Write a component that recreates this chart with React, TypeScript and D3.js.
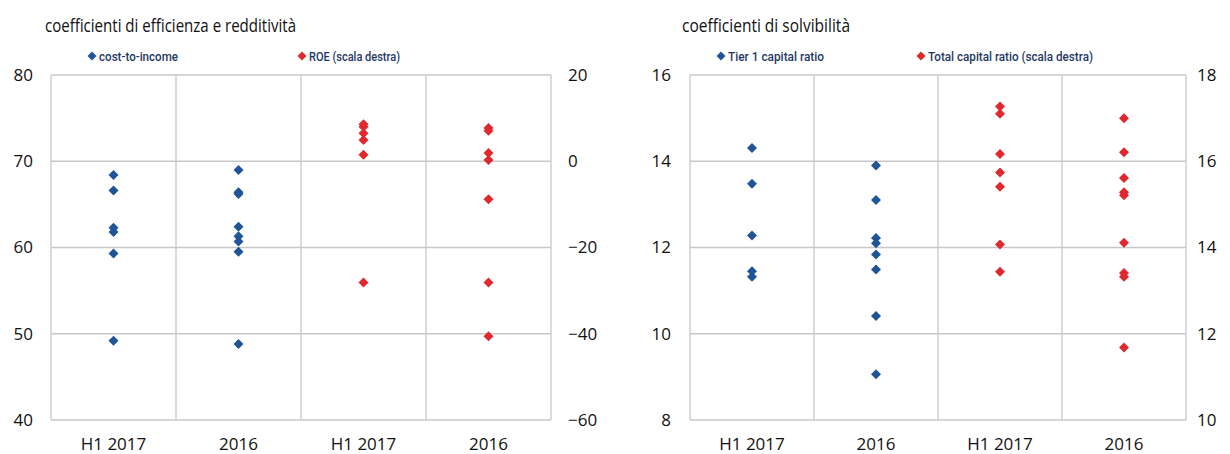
import React from "react";
import * as d3 from "d3";

// ---------- data ----------
const categories = ["H1 2017", "2016", "H1 2017", "2016"];

// left panel
const costIncomeH1 = [68.4, 66.6, 62.3, 61.8, 59.3, 49.2];
const costIncome2016 = [69.0, 66.4, 66.2, 62.4, 61.3, 60.7, 59.5, 48.8];
const roeH1 = [8.6, 8.0, 6.5, 4.9, 1.5, -28.1];
const roe2016 = [7.7, 7.1, 1.9, 0.3, -8.8, -28.1, -40.6];
const leftTicksL = [40, 50, 60, 70, 80];
const leftTicksR = [-60, -40, -20, 0, 20];

// right panel
const tier1H1 = [14.31, 13.48, 12.28, 11.45, 11.32];
const tier12016 = [13.9, 13.1, 12.22, 12.1, 11.84, 11.49, 10.41, 9.06];
const totalH1 = [17.27, 17.1, 16.17, 15.74, 15.41, 14.07, 13.44];
const total2016 = [17.0, 16.21, 15.61, 15.28, 15.21, 14.11, 13.41, 13.32, 11.68];
const rightTicksL = [8, 10, 12, 14, 16];
const rightTicksR = [10, 12, 14, 16, 18];

const BLUE = "#1f5597";
const RED = "#e0282e";
const GRID = "#c8c8cc";
const LEG = "#1f3864";
const FONT = "'Open Sans', sans-serif";

const fmt = (v: number) => (v < 0 ? "\u2212" + Math.abs(v) : String(v));

function diamond(x: number, y: number, r: number) {
  return `M${x},${y - r}L${x + r},${y}L${x},${y + r}L${x - r},${y}Z`;
}

type Leg = { x: number; label: string; w: number };

type PanelProps = {
  x0: number;
  x1: number;
  y0: number;
  y1: number;
  title: string;
  titleX: number;
  titleW: number;
  legendA: Leg;
  legendB: Leg;
  ticksL: number[];
  ticksR: number[];
  leftLabelEnd: number;
  rightLabelStart: number;
  blue: number[][];
  red: number[][];
};

function Panel(p: PanelProps) {
  const x = d3
    .scaleBand<number>()
    .domain(categories.map((_, i) => i))
    .range([p.x0, p.x1])
    .padding(0);
  const yL = d3
    .scaleLinear()
    .domain([p.ticksL[0], p.ticksL[p.ticksL.length - 1]])
    .range([p.y1, p.y0]);
  const yR = d3
    .scaleLinear()
    .domain([p.ticksR[0], p.ticksR[p.ticksR.length - 1]])
    .range([p.y1, p.y0]);
  const bw = x.bandwidth();
  const boundaries = [...categories.map((_, i) => x(i)!), p.x1];

  return (
    <g>
      <text
        x={p.titleX}
        y={32}
        fontFamily={FONT}
        fontSize={18}
        fill="#111"
        textLength={p.titleW}
        lengthAdjust="spacingAndGlyphs"
      >
        {p.title}
      </text>
      {/* legend */}
      {[
        { ...p.legendA, c: BLUE },
        { ...p.legendB, c: RED },
      ].map((l, i) => (
        <g key={i}>
          <path d={diamond(l.x, 56, 4.5)} fill={l.c} />
          <text
            x={l.x + 7}
            y={61}
            fontFamily="Roboto, sans-serif"
            fontWeight={500}
            fontSize={13}
            fill={LEG}
            textLength={l.w}
            lengthAdjust="spacingAndGlyphs"
          >
            {l.label}
          </text>
        </g>
      ))}
      {/* grid */}
      {p.ticksL.map((t) => (
        <line
          key={"h" + t}
          x1={p.x0}
          x2={p.x1}
          y1={yL(t)}
          y2={yL(t)}
          stroke={GRID}
          strokeWidth={1.3}
        />
      ))}
      {boundaries.map((bx, i) => (
        <line
          key={"v" + i}
          x1={bx}
          x2={bx}
          y1={p.y0}
          y2={p.y1}
          stroke={GRID}
          strokeWidth={1.3}
        />
      ))}
      {/* axis labels */}
      {p.ticksL.map((t) => (
        <text
          key={"l" + t}
          x={p.leftLabelEnd}
          y={yL(t)}
          dy="0.35em"
          textAnchor="end"
          fontFamily={FONT}
          fontSize={17}
          fill="#111"
        >
          {fmt(t)}
        </text>
      ))}
      {p.ticksR.map((t) => (
        <text
          key={"r" + t}
          x={p.rightLabelStart}
          y={yR(t)}
          dy="0.35em"
          textAnchor="start"
          fontFamily={FONT}
          fontSize={17}
          fill="#111"
        >
          {fmt(t)}
        </text>
      ))}
      {categories.map((c, i) => (
        <text
          key={"c" + i}
          x={x(i)! + bw / 2}
          y={450}
          textAnchor="middle"
          fontFamily={FONT}
          fontSize={17}
          fill="#111"
        >
          {c}
        </text>
      ))}
      {/* points */}
      {p.blue.map((vals, i) =>
        vals.map((v, j) => (
          <path
            key={"b" + i + "-" + j}
            d={diamond(x(i)! + bw / 2, yL(v), 5)}
            fill={BLUE}
          />
        ))
      )}
      {p.red.map((vals, i) =>
        vals.map((v, j) => (
          <path
            key={"rd" + i + "-" + j}
            d={diamond(x(i + 2)! + bw / 2, yR(v), 5)}
            fill={RED}
          />
        ))
      )}
    </g>
  );
}

export default function App() {
  return (
    <svg
      width={1230}
      height={454}
      style={{ position: "absolute", left: 0, top: 0, background: "#fff" }}
    >
      <rect width={1230} height={454} fill="#fff" />
      <Panel
        x0={51}
        x1={551}
        y0={75}
        y1={420}
        title="coefficienti di efficienza e redditività"
        titleX={45}
        titleW={251}
        legendA={{ x: 92, label: "cost-to-income", w: 79 }}
        legendB={{ x: 302, label: "ROE (scala destra)", w: 91 }}
        ticksL={leftTicksL}
        ticksR={leftTicksR}
        leftLabelEnd={33}
        rightLabelStart={568}
        blue={[costIncomeH1, costIncome2016]}
        red={[roeH1, roe2016]}
      />
      <Panel
        x0={690}
        x1={1186}
        y0={75}
        y1={420}
        title="coefficienti di solvibilità"
        titleX={682}
        titleW={168}
        legendA={{ x: 721, label: "Tier 1 capital ratio", w: 96 }}
        legendB={{ x: 921, label: "Total capital ratio (scala destra)", w: 165 }}
        ticksL={rightTicksL}
        ticksR={rightTicksR}
        leftLabelEnd={671}
        rightLabelStart={1197}
        blue={[tier1H1, tier12016]}
        red={[totalH1, total2016]}
      />
    </svg>
  );
}
